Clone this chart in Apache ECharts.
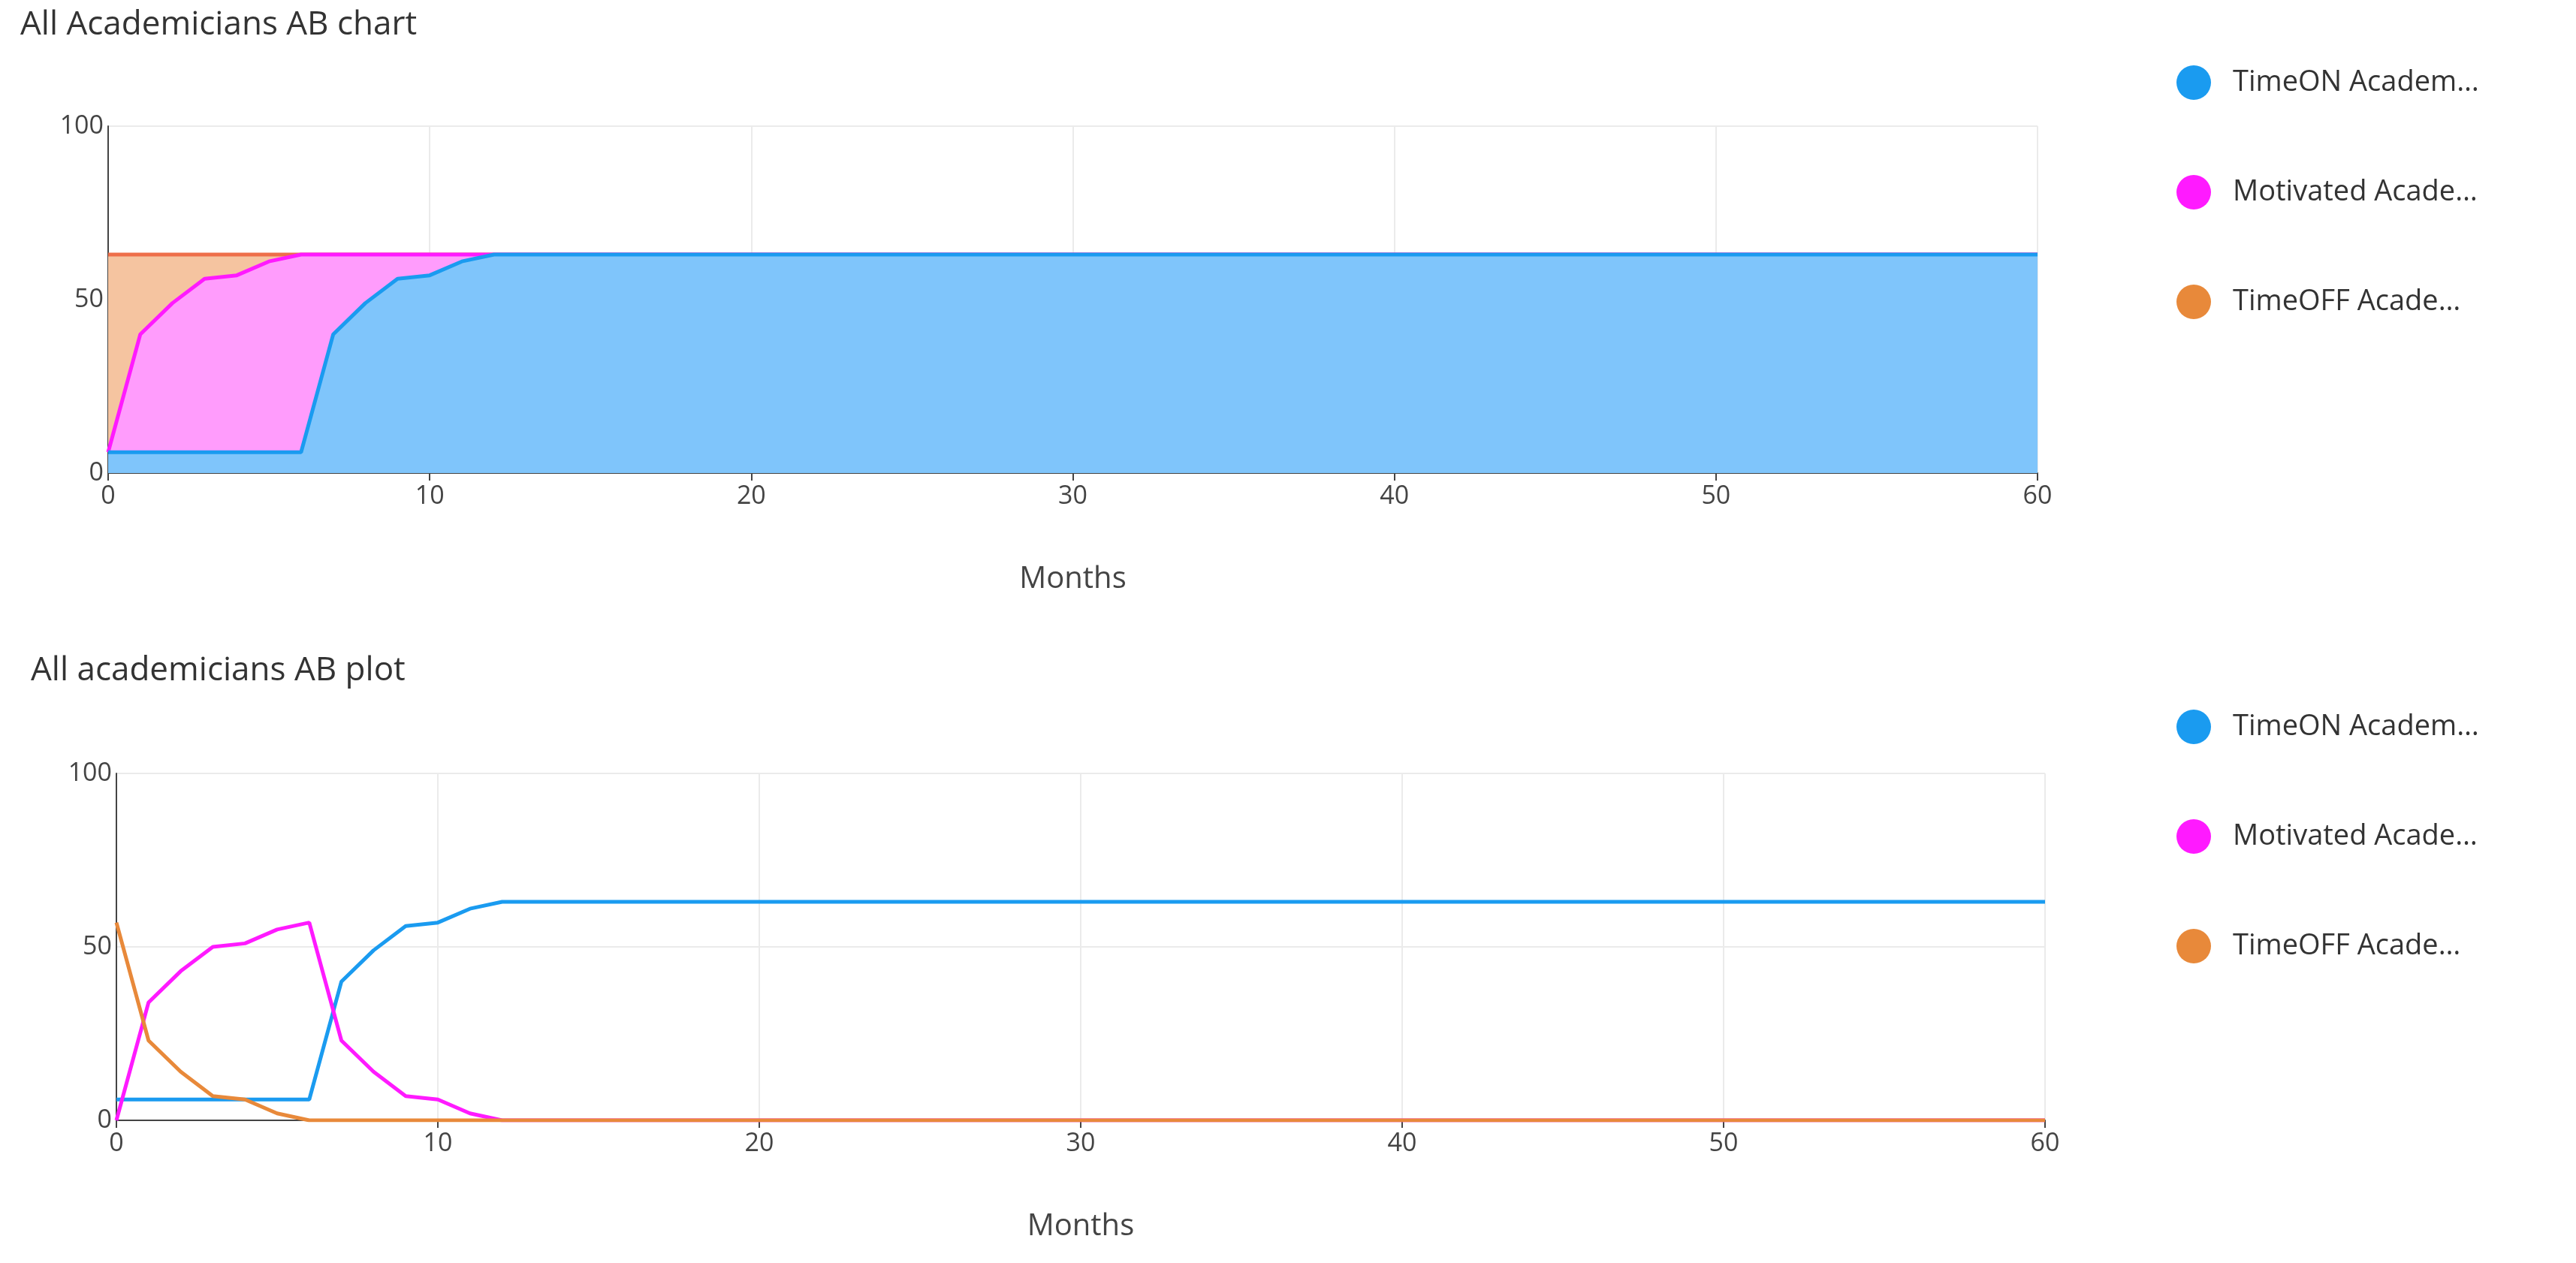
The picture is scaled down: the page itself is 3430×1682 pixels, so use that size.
<!DOCTYPE html>
<html>
<head>
<meta charset="utf-8">
<script src="https://cdn.jsdelivr.net/npm/echarts@6/dist/echarts.min.js"></script>
<style>html,body{margin:0;background:#fff}#main{width:3430px;height:1682px}</style>
</head>
<body>
<div id="main"></div>
<script>
// months (flat after month 12)
var months = [0, 1, 2, 3, 4, 5, 6, 7, 8, 9, 10, 11, 12, 60];
var timeOn = [6, 6, 6, 6, 6, 6, 6, 40, 49, 56, 57, 61, 63, 63];
var motivated = [0, 34, 43, 50, 51, 55, 57, 23, 14, 7, 6, 2, 0, 0];
var timeOff = [57, 23, 14, 7, 6, 2, 0, 0, 0, 0, 0, 0, 0, 0];
var names = ['TimeON Academ…', 'Motivated Acade…', 'TimeOFF Acade…'];
var lineColors = ['#1a9bf0', '#ff1aff', '#e8893a'];
var fillColors = ['#7fc5fb', '#ff9cfc', '#f5c4a0'];

function pairs(arr) {
	return months.map(function (m, i) { return [m, arr[i]]; });
}
var seriesData = [timeOn, motivated, timeOff];
// cumulative tops for the stacked chart
var stacked = [];
seriesData.forEach(function (arr, i) {
	stacked.push(arr.map(function (v, j) { return v + (i ? stacked[i - 1][j] : 0); }));
});

var font = '"Open Sans", "Noto Sans", sans-serif';
var axisText = { color: '#444', fontSize: 34, fontFamily: font };

function xAxis(idx) {
	return {
		type: 'value', gridIndex: idx, min: 0, max: 60, interval: 10,
		name: 'Months', nameLocation: 'middle', nameGap: 122,
		nameTextStyle: { color: '#444', fontSize: 40, fontFamily: font },
		axisLine: { show: true, lineStyle: { color: '#444', width: 2 } },
		axisTick: { show: true, length: 10, lineStyle: { color: '#444', width: 2 } },
		axisLabel: Object.assign({ margin: 14 }, axisText),
		splitLine: { show: true, lineStyle: { color: '#ebebeb', width: 2 } }
	};
}
function yAxis(idx) {
	return {
		type: 'value', gridIndex: idx, min: 0, max: 100, interval: 50,
		axisLine: { show: true, lineStyle: { color: '#444', width: 2 } },
		axisTick: { show: false },
		axisLabel: Object.assign({ margin: 6 }, axisText),
		splitLine: { show: true, lineStyle: { color: '#ebebeb', width: 2 } }
	};
}
function legend(top) {
	return {
		orient: 'vertical', left: 2893, top: top, icon: 'circle',
		itemWidth: 46, itemHeight: 46, itemGap: 100,
		textStyle: { color: '#333', fontSize: 38, fontFamily: font, padding: [44, 0, 0, 24] },
		data: names
	};
}

var series = [];
// draw from top of stack downward so lower areas cover upper ones
[2, 1, 0].forEach(function (i) {
	series.push({
		name: names[i], type: 'line', xAxisIndex: 0, yAxisIndex: 0,
		data: pairs(stacked[i]), symbol: 'none', z: 2 + (2 - i),
		lineStyle: { color: i === 2 ? '#ee6f4a' : lineColors[i], width: 5 },
		itemStyle: { color: lineColors[i] },
		areaStyle: { color: fillColors[i], opacity: 1 }
	});
});
seriesData.forEach(function (arr, i) {
	series.push({
		name: names[i], type: 'line', xAxisIndex: 1, yAxisIndex: 1,
		data: pairs(arr), symbol: 'none',
		lineStyle: { color: lineColors[i], width: 5 },
		itemStyle: { color: lineColors[i] }
	});
});

var chart = echarts.init(document.getElementById('main'));
chart.setOption({
	animation: false,
	title: [
		{ text: 'All Academicians AB chart', left: 22, top: 6, textStyle: { color: '#333', fontSize: 44, fontWeight: 'normal', fontFamily: font } },
		{ text: 'All academicians AB plot', left: 36, top: 866, textStyle: { color: '#333', fontSize: 44, fontWeight: 'normal', fontFamily: font } }
	],
	legend: [legend(82), legend(940)],
	grid: [
		{ left: 144, width: 2569, top: 168, height: 462 },
		{ left: 155, width: 2568, top: 1030, height: 462 }
	],
	xAxis: [xAxis(0), xAxis(1)],
	yAxis: [yAxis(0), yAxis(1)],
	series: series
});
</script>
</body>
</html>
